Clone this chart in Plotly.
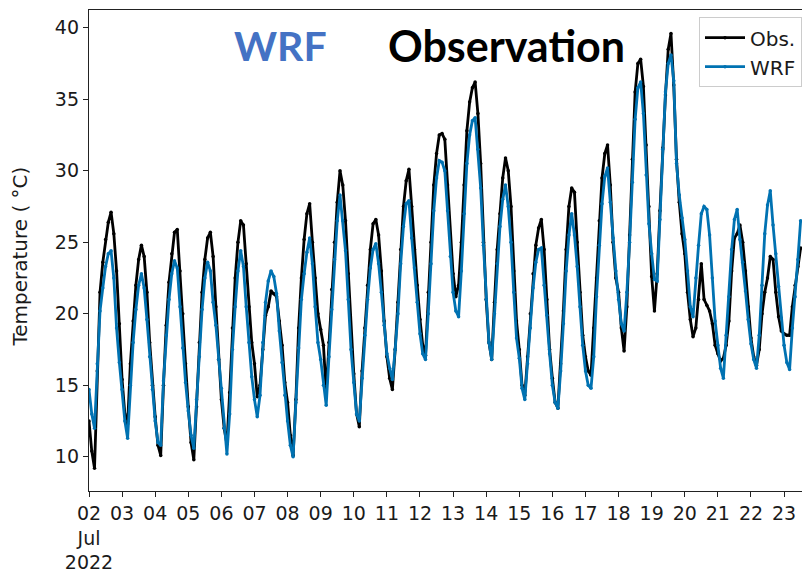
import pandas as pd
import plotly.graph_objects as go

# 2-hourly values (00,02,...,22 h) per day, starting 2022-07-02 00:00
obs = [
    12.5, 10.4, 9.2, 16.0, 21.5, 23.6, 25.2, 26.4, 27.1, 25.6, 23.0, 19.3,   # Jul 02
    15.4, 13.0, 12.3, 16.5, 19.5, 22.0, 23.8, 24.8, 24.0, 21.5, 18.0, 15.0,  # Jul 03
    12.8, 10.8, 10.1, 15.0, 19.2, 22.2, 24.2, 25.7, 25.9, 23.0, 20.0, 16.5,  # Jul 04
    13.5, 11.0, 9.8, 13.5, 18.0, 21.5, 23.8, 25.3, 25.7, 24.0, 20.5, 16.8,   # Jul 05
    14.0, 12.0, 10.9, 14.5, 19.0, 22.5, 25.0, 26.5, 26.2, 23.5, 20.5, 18.0,  # Jul 06
    16.5, 14.2, 15.0, 17.5, 19.9, 20.5, 21.6, 21.4, 21.2, 19.5, 17.8, 15.2,  # Jul 07
    13.8, 11.5, 10.1, 14.0, 19.0, 22.5, 25.2, 27.0, 27.7, 25.0, 22.5, 20.0,  # Jul 08
    18.9, 17.8, 14.5, 18.0, 21.7, 25.0, 27.8, 30.0, 29.0, 26.5, 22.8, 18.5,  # Jul 09
    15.8, 13.0, 12.1, 16.0, 19.0, 22.0, 24.5, 26.3, 26.6, 25.5, 23.0, 19.5,  # Jul 10
    17.0, 15.5, 14.7, 17.5, 20.8, 24.5, 27.5, 29.3, 30.1, 27.5, 24.5, 22.0,  # Jul 11
    19.6, 17.8, 17.1, 21.5, 25.0, 29.0, 31.2, 32.5, 32.6, 32.2, 29.0, 25.5,  # Jul 12
    22.8, 21.2, 22.0, 25.0, 29.0, 32.8, 34.8, 35.8, 36.2, 34.0, 30.5, 25.0,  # Jul 13
    21.0, 18.0, 16.8, 20.8, 24.5, 27.0, 29.5, 30.9, 30.0, 27.5, 23.0, 19.5,  # Jul 14
    17.5, 15.0, 14.3, 17.0, 20.0, 22.8, 24.8, 26.0, 26.6, 24.5, 21.0, 17.5,  # Jul 15
    15.5, 13.8, 13.4, 16.5, 20.2, 24.5, 27.5, 28.8, 28.5, 25.0, 21.5, 18.5,  # Jul 16
    17.0, 16.0, 15.7, 19.0, 22.5, 26.5, 29.5, 31.2, 31.8, 29.0, 25.0, 22.5,  # Jul 17
    21.5, 19.0, 17.4, 20.5, 25.5, 30.8, 35.5, 37.5, 37.8, 35.9, 31.8, 27.5,  # Jul 18
    22.6, 20.2, 22.8, 27.2, 31.6, 35.3, 38.5, 39.6, 36.0, 30.8, 27.8, 25.6,  # Jul 19
    24.2, 21.5, 19.6, 18.4, 19.0, 21.0, 23.5, 21.0, 20.6, 20.2, 19.3, 17.8,  # Jul 20
    17.2, 16.7, 16.9, 17.8, 19.5, 23.0, 25.3, 25.6, 26.2, 25.0, 23.0, 20.5,  # Jul 21
    18.3, 17.0, 16.4, 17.5, 20.0, 21.5, 22.5, 24.0, 23.8, 21.5, 19.8, 18.8,  # Jul 22
    18.6, 18.5, 18.5, 20.5, 22.0, 23.3, 24.6,                                # Jul 23
]

wrf = [
    14.7, 13.0, 12.0, 16.5, 20.2, 21.8, 23.3, 24.2, 24.4, 22.5, 19.0, 16.6,  # Jul 02
    14.7, 12.5, 11.3, 15.0, 18.0, 20.3, 22.0, 22.8, 21.8, 19.6, 17.0, 14.7,  # Jul 03
    12.5, 11.0, 10.8, 15.3, 18.5, 21.0, 22.8, 23.7, 23.2, 20.5, 17.6, 15.2,  # Jul 04
    13.2, 11.5, 10.6, 14.0, 17.0, 20.3, 22.5, 23.6, 23.0, 20.8, 19.2, 16.8,  # Jul 05
    14.8, 12.0, 10.2, 13.0, 17.5, 20.5, 23.0, 24.4, 23.3, 20.5, 18.0, 15.6,  # Jul 06
    14.0, 12.8, 14.3, 18.0, 20.8, 22.3, 23.0, 22.6, 21.4, 18.8, 16.6, 14.3,  # Jul 07
    12.5, 10.8, 10.0, 13.8, 17.6, 21.0, 22.8, 24.3, 25.3, 23.5, 20.5, 18.0,  # Jul 08
    16.8, 15.0, 13.6, 17.0, 20.3, 23.8, 26.5, 28.3, 26.5, 24.4, 21.0, 17.5,  # Jul 09
    15.2, 13.0, 12.5, 15.5, 18.5, 21.0, 23.2, 24.5, 24.9, 23.5, 21.5, 19.2,  # Jul 10
    17.2, 16.2, 15.4, 17.5, 20.0, 23.5, 26.1, 27.7, 27.9, 25.3, 23.2, 20.8,  # Jul 11
    18.6, 17.2, 16.8, 20.0, 23.5, 27.2, 29.5, 30.7, 30.6, 30.0, 27.2, 24.0,  # Jul 12
    21.5, 20.2, 19.8, 23.0, 27.0, 30.5, 32.5, 33.5, 33.7, 31.5, 28.8, 24.8,  # Jul 13
    21.0, 18.0, 16.8, 20.0, 23.5, 26.1, 28.0, 29.0, 27.5, 25.0, 21.5, 18.3,  # Jul 14
    16.9, 14.8, 14.0, 16.5, 19.0, 21.8, 23.6, 24.5, 24.6, 22.0, 19.9, 17.2,  # Jul 15
    15.0, 13.8, 13.4, 16.0, 19.3, 23.0, 25.5, 27.0, 25.5, 23.3, 20.5, 17.8,  # Jul 16
    16.0, 15.0, 14.8, 17.0, 21.2, 24.8, 27.7, 29.6, 30.2, 27.8, 25.3, 23.0,  # Jul 17
    21.0, 19.3, 18.8, 21.5, 25.0, 29.2, 33.6, 35.8, 36.2, 34.0, 29.7, 26.3,  # Jul 18
    24.2, 22.4, 22.3, 26.6, 31.5, 35.5, 37.5, 38.1, 36.3, 30.5, 28.3, 26.7,  # Jul 19
    25.2, 23.0, 20.5, 19.8, 22.5, 24.8, 27.0, 27.5, 27.3, 25.5, 22.5, 19.5,  # Jul 20
    17.8, 16.2, 15.5, 18.5, 21.2, 24.5, 26.6, 27.3, 25.2, 23.6, 21.6, 19.6,  # Jul 21
    17.9, 16.8, 16.2, 18.5, 22.0, 25.6, 27.6, 28.6, 26.2, 24.2, 21.9, 19.7,  # Jul 22
    17.8, 16.6, 16.1, 19.0, 21.2, 23.8, 26.5,                                # Jul 23
]

start = "2022-07-02 00:00"
times = pd.date_range(start, periods=len(obs), freq="2h")

tick_days = pd.date_range("2022-07-02", "2022-07-23", freq="D")
tick_text = ["02<br>Jul<br>2022"] + [d.strftime("%d") for d in tick_days[1:]]
y_ticks = [10, 15, 20, 25, 30, 35, 40]

BLUE = "#0072B2"

fig = go.Figure()
fig.add_trace(go.Scatter(
    x=times, y=obs, name="Obs.", mode="lines+markers",
    line=dict(color="black", width=2.8),
    marker=dict(color="black", size=3.5),
))
fig.add_trace(go.Scatter(
    x=times, y=wrf, name="WRF", mode="lines+markers",
    line=dict(color=BLUE, width=2.8),
    marker=dict(color=BLUE, size=3.5),
))

fig.update_layout(
    width=802, height=576,
    margin=dict(l=89, r=0, t=10, b=85),
    paper_bgcolor="white", plot_bgcolor="white",
    font=dict(family="DejaVu Sans", size=18, color="#1a1a1a"),
    showlegend=True,
    legend=dict(
        x=1.0, y=0.985, xanchor="right", yanchor="top",
        bgcolor="rgba(255,255,255,0.85)", bordercolor="#cccccc", borderwidth=1,
        font=dict(size=20, color="#1a1a1a"),
        tracegroupgap=0, itemwidth=40,
    ),
    xaxis=dict(
        range=["2022-07-02 00:00", "2022-07-23 13:00"],
        tickvals=list(tick_days), ticktext=tick_text,
        tickangle=0,
        ticks="outside", ticklen=5, tickcolor="#222", tickwidth=1.2,
        showline=True, linecolor="#222", linewidth=1.4, mirror=True,
        showgrid=False, zeroline=False,
        tickfont=dict(size=19),
    ),
    yaxis=dict(
        range=[7.61, 41.24],
        tickvals=y_ticks,
        ticks="outside", ticklen=5, tickcolor="#222", tickwidth=1.2,
        showline=True, linecolor="#222", linewidth=1.4, mirror=False,
        showgrid=False, zeroline=False,
        tickfont=dict(size=19),
    ),
    annotations=[
        dict(text="Temperature ( °C)", textangle=-90, showarrow=False,
             xref="paper", yref="paper", x=-0.097, y=0.487,
             xanchor="center", yanchor="middle",
             font=dict(family="DejaVu Sans", size=20, color="#1a1a1a")),
        dict(text="<b>WRF</b>", showarrow=False, xref="paper", yref="paper",
             x=0.269, y=0.927, xanchor="center", yanchor="middle",
             font=dict(family="Lato", size=41, color="#4472C4")),
        dict(text="<b>Observation</b>", showarrow=False, xref="paper", yref="paper",
             x=0.585, y=0.927, xanchor="center", yanchor="middle",
             font=dict(family="Lato", size=43, color="black")),
    ],
)

fig.write_html("out.html")
